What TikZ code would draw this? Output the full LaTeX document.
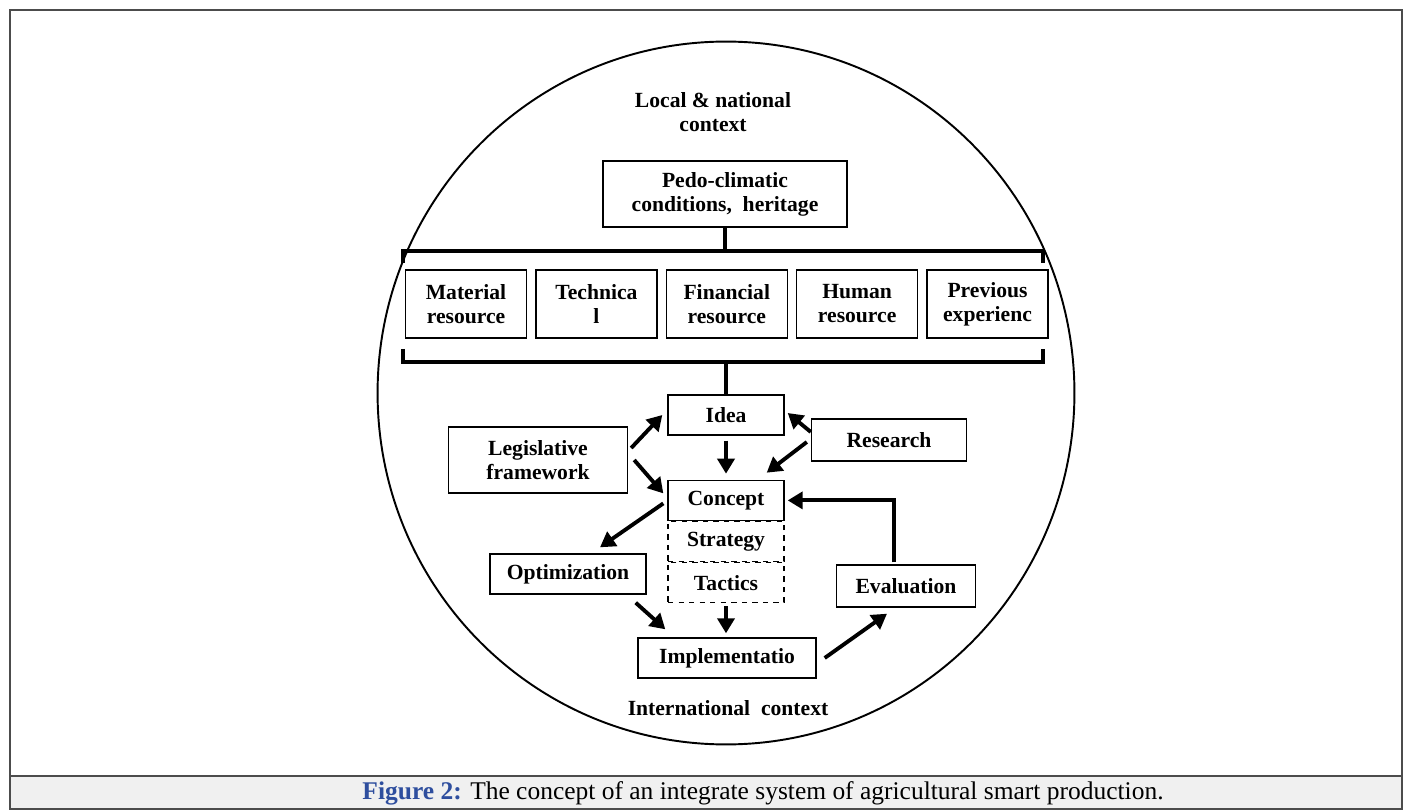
\documentclass[tikz,border=0pt]{standalone}
\usepackage{fontspec}
\setmainfont{Liberation Serif}
\usetikzlibrary{positioning,arrows.meta}
\definecolor{figblue}{HTML}{2E4E9E}
\tikzset{box node/.style={draw,line width=0.8pt,fill=white,align=center,inner sep=2pt,
		font=\fontsize{12.3}{13.6}\selectfont\bfseries,minimum height=0.8cm},
	res node/.style={box node,minimum width=2.42cm,minimum height=1.36cm},
	dash node/.style={box node,dashed,line width=0.6pt},
	text node/.style={align=center,font=\fontsize{12.3}{13.6}\selectfont\bfseries},
	link/.style={line width=2.2pt,-{Triangle[length=0.3cm,width=0.34cm]}},
	brace/.style={line width=2.1pt},
}

\begin{document}
\begin{tikzpicture}[x=0.02cm,y=-0.02cm]
		\useasboundingbox (0,0) rectangle (1405,810);
		\fill[gray!12] (10,776) rectangle (1402,809);
		\draw[line width=0.6pt,gray!60!black] (10,10) rectangle (1402,809);
		\draw[line width=0.6pt,gray!60!black] (10,776) -- (1402,776);
		\draw[line width=1.1pt] (726,393) ellipse [x radius=6.97cm,y radius=7.03cm];
		
		\node[text node] (local) at (713,112) {Local \& national\\context};
		\node[box node,minimum width=4.88cm,minimum height=1.32cm] (pedo) at (725,194) {Pedo-climatic\\conditions,\ \ heritage};
		
		\node[res node] (M) at (466,304) {Material\\resource};
		\node[res node] (T) [right=0.16cm of M] {Technica\\l};
		\node[res node] (F) [right=0.16cm of T] {Financial\\resource};
		\node[res node] (H) [right=0.16cm of F] {Human\\resource};
		\node[res node] (P) [right=0.16cm of H] {Previous\\experienc};
		
		\coordinate (topL) at (403,263);
		\coordinate (topR) at (1043,263);
		\coordinate (topM) at (725,251);
		\draw[brace] (topL) -- (topL |- topM) -- (topR |- topM) -- (topR);
		\draw[brace] (pedo.south) -- (pedo.south |- topM);
		
		\coordinate (botL) at (403,349);
		\coordinate (botR) at (1043,349);
		\coordinate (botM) at (726,362);
		\draw[brace] (botL) -- (botL |- botM) -- (botR |- botM) -- (botR);
		
		\node[box node,minimum width=2.32cm] (idea) at (726,415) {Idea};
		\node[box node,minimum width=2.32cm] (concept) [below=0.88cm of idea] {Concept};
		\node[dash node,minimum width=2.32cm] (strategy) [below=0pt of concept] {Strategy};
		\node[dash node,minimum width=2.32cm] (tactics) [below=0pt of strategy] {Tactics};
		\node[box node,minimum width=3.58cm,minimum height=1.32cm] (leg) at (538,460) {Legislative\\framework};
		\node[box node,minimum width=3.1cm,minimum height=0.84cm] (research) at (889,440) {Research};
		\node[box node,minimum width=3.12cm] (optim) at (568,574) {Optimization};
		\node[box node,minimum width=2.78cm,minimum height=0.84cm] (eval) at (906,586) {Evaluation};
		\node[box node,minimum width=3.56cm] (impl) at (727,658) {Implementatio};
		\node[text node] (intl) at (728,708) {International\ \ context};
		
		\draw[brace] (idea.north |- botM) -- (idea.north);
		
		\draw[link] ([shift={(3,-12)}]leg.east) -- ([shift={(-5,0)}]idea.west);
		\draw[link] ([shift={(6,0)}]leg.east) -- ([shift={(-4,-7)}]concept.west);
		\draw[link] ([shift={(0,-8)}]research.west) -- ([shift={(3,-2)}]idea.east);
		\draw[link] ([shift={(-4,2)}]research.west) -- ([shift={(-18,-7)}]concept.north east);
		\draw[link] ([shift={(0,5)}]idea.south) -- ([shift={(0,-6)}]concept.north);
		\draw[link] ([shift={(-4,3)}]concept.west) -- ([shift={(32,-6)}]optim.north);
		\draw[link] ([shift={(-11,8)}]optim.south east) -- ([shift={(28,-8)}]impl.north west);
		\draw[link] ([shift={(0,3)}]tactics.south) -- ([shift={(-1,-4)}]impl.north);
		\draw[link] ([shift={(8,0)}]impl.east) -- ([shift={(-19,6)}]eval.south);
		\draw[link] ([shift={(-12,-2)}]eval.north) |- ([shift={(3,0)}]concept.east);
		
		\node[font=\fontsize{14.5}{16}\selectfont] (cap) at (763,793) {\textcolor{figblue}{\textbf{Figure 2:}} The concept of an integrate system of agricultural smart production.};
		
	\end{tikzpicture}
\end{document}
